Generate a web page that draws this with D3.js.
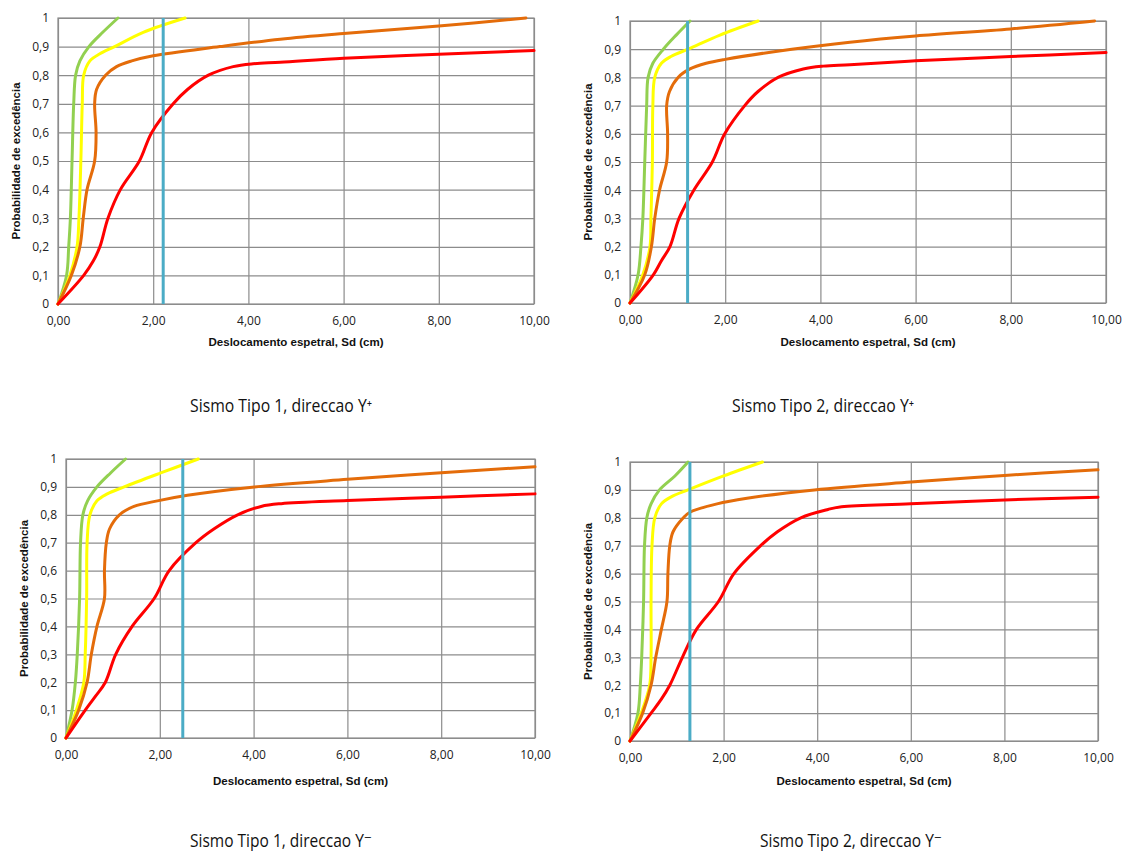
<!DOCTYPE html>
<html>
<head>
<meta charset="utf-8">
<script src="https://cdn.jsdelivr.net/npm/d3@7"></script>
<style>
  html, body { margin: 0; padding: 0; background: #fff; }
  svg { display: block; }
</style>
</head>
<body>
<svg id="chart" width="1126" height="854"></svg>
<script>
// Tick labels (Portuguese decimal comma)
const xTickValues = [0, 2, 4, 6, 8, 10];
const xTickLabels = ["0,00", "2,00", "4,00", "6,00", "8,00", "10,00"];
const yTickValues = [0, 0.1, 0.2, 0.3, 0.4, 0.5, 0.6, 0.7, 0.8, 0.9, 1];
const yTickLabels = ["0", "0,1", "0,2", "0,3", "0,4", "0,5", "0,6", "0,7", "0,8", "0,9", "1"];

const xAxisTitle = "Deslocamento espetral, Sd (cm)";
const yAxisTitle = "Probabilidade de excedência";

// Fragility curves, each point [Sd (cm), probability of exceedance]
// Sismo Tipo 1, direccao Y+
const t1YmaisVerde = [[0,0],[0.18,0.1],[0.225,0.2],[0.26,0.3],[0.295,0.5],[0.33,0.7],[0.37,0.8],[0.46,0.85],[0.65,0.9],[0.94,0.95],[1.26,1]];
const t1YmaisAmarelo = [[0,0],[0.25,0.1],[0.40,0.2],[0.44,0.3],[0.48,0.5],[0.51,0.7],[0.54,0.8],[0.67,0.85],[0.88,0.875],[1.19,0.9],[1.79,0.95],[2.67,1]];
const t1YmaisLaranja = [[0,0],[0.28,0.1],[0.46,0.2],[0.53,0.3],[0.61,0.4],[0.77,0.5],[0.80,0.6],[0.77,0.7],[0.81,0.75],[1.0,0.8],[1.23,0.83],[1.55,0.85],[2.0,0.868],[3.4,0.9],[4.67,0.926],[6,0.946],[8,0.972],[9.83,1]];
const t1YmaisVermelho = [[0,0],[0.54,0.1],[0.74,0.15],[0.88,0.2],[1.05,0.3],[1.31,0.4],[1.71,0.5],[1.97,0.6],[2.42,0.7],[2.72,0.75],[3.16,0.8],[3.68,0.83],[4.1,0.84],[4.67,0.845],[6,0.859],[8,0.873],[10,0.886]];
const t1YmaisLimite = 2.21;

// Sismo Tipo 2, direccao Y+
const t2YmaisVerde = [[0,0],[0.17,0.1],[0.23,0.2],[0.27,0.3],[0.31,0.5],[0.35,0.7],[0.38,0.8],[0.48,0.85],[0.70,0.9],[0.97,0.95],[1.26,1]];
const t2YmaisAmarelo = [[0,0],[0.27,0.1],[0.42,0.2],[0.44,0.3],[0.47,0.5],[0.48,0.7],[0.52,0.8],[0.66,0.85],[0.87,0.875],[1.22,0.9],[1.89,0.95],[2.69,1]];
const t2YmaisLaranja = [[0,0],[0.31,0.1],[0.45,0.2],[0.52,0.3],[0.62,0.4],[0.77,0.5],[0.79,0.6],[0.77,0.7],[0.83,0.75],[1.01,0.8],[1.26,0.83],[1.6,0.85],[2.0,0.864],[3.4,0.9],[4.62,0.925],[6,0.947],[8,0.972],[9.76,1]];
const t2YmaisVermelho = [[0,0],[0.49,0.1],[0.66,0.15],[0.84,0.2],[1.03,0.3],[1.34,0.4],[1.73,0.5],[1.99,0.6],[2.41,0.7],[2.69,0.75],[3.11,0.8],[3.64,0.83],[4.06,0.84],[4.62,0.845],[6,0.859],[8,0.874],[10,0.888]];
const t2YmaisLimite = 1.21;

// Sismo Tipo 1, direccao Y-
const t1YmenosVerde = [[0,0],[0.13,0.1],[0.20,0.2],[0.24,0.3],[0.29,0.5],[0.31,0.7],[0.36,0.8],[0.46,0.85],[0.66,0.9],[0.95,0.95],[1.27,1]];
const t1YmenosAmarelo = [[0,0],[0.22,0.1],[0.38,0.2],[0.41,0.3],[0.44,0.5],[0.45,0.7],[0.51,0.8],[0.66,0.85],[0.88,0.875],[1.24,0.9],[2.02,0.95],[2.82,1]];
const t1YmenosLaranja = [[0,0],[0.27,0.1],[0.45,0.2],[0.54,0.3],[0.66,0.4],[0.82,0.5],[0.82,0.6],[0.86,0.7],[0.93,0.75],[1.14,0.8],[1.45,0.83],[1.95,0.85],[2.59,0.87],[4.02,0.9],[6,0.927],[8,0.951],[10,0.972]];
const t1YmenosVermelho = [[0,0],[0.41,0.1],[0.63,0.15],[0.84,0.2],[1.06,0.3],[1.41,0.4],[1.88,0.5],[2.2,0.6],[2.77,0.7],[3.16,0.75],[3.66,0.8],[4.16,0.83],[4.59,0.84],[6,0.851],[8,0.863],[10,0.875]];
const t1YmenosLimite = 2.49;

// Sismo Tipo 2, direccao Y-
const t2YmenosVerde = [[0,0],[0.17,0.1],[0.22,0.2],[0.25,0.3],[0.29,0.5],[0.31,0.7],[0.36,0.8],[0.45,0.85],[0.63,0.9],[0.96,0.95],[1.24,1]];
const t2YmenosAmarelo = [[0,0],[0.24,0.1],[0.42,0.2],[0.45,0.3],[0.45,0.5],[0.47,0.7],[0.53,0.8],[0.67,0.85],[0.88,0.875],[1.24,0.9],[2.0,0.95],[2.83,1]];
const t2YmenosLaranja = [[0,0],[0.27,0.1],[0.45,0.2],[0.55,0.3],[0.67,0.4],[0.79,0.5],[0.81,0.6],[0.85,0.7],[0.92,0.75],[1.14,0.8],[1.28,0.82],[1.86,0.85],[2.5,0.87],[3.94,0.9],[6,0.928],[8,0.952],[10,0.972]];
const t2YmenosVermelho = [[0,0],[0.45,0.1],[0.67,0.15],[0.85,0.2],[1.12,0.3],[1.42,0.4],[1.89,0.5],[2.22,0.6],[2.79,0.7],[3.15,0.75],[3.65,0.8],[4.23,0.83],[4.52,0.84],[6,0.850],[8,0.864],[10,0.874]];
const t2YmenosLimite = 1.28;

const seriesColors = ["#92d050", "#ffff00", "#e46c0a", "#ff0000"];
const limitColor = "#4bacc6";
const gridColor = "#8c8c8c";

const panels = [
  { caption: "Sismo Tipo 1, direccao Y\u207A", series: [t1YmaisVerde, t1YmaisAmarelo, t1YmaisLaranja, t1YmaisVermelho], limit: t1YmaisLimite,
    box: { left: 58, right: 534, top: 18, bottom: 304 }, xTitleY: 343, capX: 190, capY: 412 },
  { caption: "Sismo Tipo 2, direccao Y\u207A", series: [t2YmaisVerde, t2YmaisAmarelo, t2YmaisLaranja, t2YmaisVermelho], limit: t2YmaisLimite,
    box: { left: 630, right: 1106, top: 21, bottom: 303 }, xTitleY: 343, capX: 732, capY: 412 },
  { caption: "Sismo Tipo 1, direccao Y\u207B", series: [t1YmenosVerde, t1YmenosAmarelo, t1YmenosLaranja, t1YmenosVermelho], limit: t1YmenosLimite,
    box: { left: 66, right: 535, top: 459, bottom: 738 }, xTitleY: 782, capX: 190, capY: 847 },
  { caption: "Sismo Tipo 2, direccao Y\u207B", series: [t2YmenosVerde, t2YmenosAmarelo, t2YmenosLaranja, t2YmenosVermelho], limit: t2YmenosLimite,
    box: { left: 630, right: 1098, top: 462, bottom: 741 }, xTitleY: 782, capX: 760, capY: 847 }
];

const svg = d3.select("#chart");
const tickFont = "'Open Sans', 'Liberation Sans', sans-serif";

panels.forEach(p => {
  const b = p.box;
  const x = d3.scaleLinear().domain([0, 10]).range([b.left, b.right]);
  const y = d3.scaleLinear().domain([0, 1]).range([b.bottom, b.top]);
  const g = svg.append("g");

  // Vertical gridlines + x tick labels
  const xAxis = d3.axisBottom(x)
    .tickValues(xTickValues)
    .tickFormat((d, i) => xTickLabels[i])
    .tickSizeInner(-(b.bottom - b.top))
    .tickSizeOuter(0)
    .tickPadding(12);
  const gx = g.append("g").attr("transform", `translate(0,${b.bottom})`).call(xAxis);
  gx.select(".domain").remove();
  gx.selectAll(".tick line").attr("stroke", gridColor).attr("stroke-width", 1.2);
  gx.selectAll(".tick text").attr("fill", "#222").attr("font-family", tickFont).attr("font-size", 12);

  // Horizontal gridlines + y tick labels
  const yAxis = d3.axisLeft(y)
    .tickValues(yTickValues)
    .tickFormat((d, i) => yTickLabels[i])
    .tickSizeInner(-(b.right - b.left))
    .tickSizeOuter(0)
    .tickPadding(9);
  const gy = g.append("g").attr("transform", `translate(${b.left},0)`).call(yAxis);
  gy.select(".domain").remove();
  gy.selectAll(".tick line").attr("stroke", gridColor).attr("stroke-width", 1.2);
  gy.selectAll(".tick text").attr("fill", "#222").attr("font-family", tickFont).attr("font-size", 12);

  // Plot frame
  g.append("rect")
    .attr("x", b.left).attr("y", b.top)
    .attr("width", b.right - b.left).attr("height", b.bottom - b.top)
    .attr("fill", "none").attr("stroke", gridColor).attr("stroke-width", 1.2);

  // Curves
  const line = d3.line()
    .x(d => x(d[0]))
    .y(d => y(d[1]))
    .curve(d3.curveCatmullRom.alpha(0.5));
  p.series.forEach((s, i) => {
    g.append("path")
      .datum(s)
      .attr("d", line)
      .attr("fill", "none")
      .attr("stroke", seriesColors[i])
      .attr("stroke-width", 3)
      .attr("stroke-linejoin", "round")
      .attr("stroke-linecap", "round");
  });

  // Vertical threshold line
  g.append("line")
    .attr("x1", x(p.limit)).attr("x2", x(p.limit))
    .attr("y1", y(0)).attr("y2", y(1))
    .attr("stroke", limitColor).attr("stroke-width", 3);

  // Axis titles
  g.append("text")
    .attr("x", (b.left + b.right) / 2).attr("y", p.xTitleY)
    .attr("text-anchor", "middle").attr("dominant-baseline", "middle")
    .attr("font-family", "'Liberation Sans', Arial, sans-serif")
    .attr("font-weight", "bold").attr("font-size", 10.5)
    .attr("textLength", 175).attr("lengthAdjust", "spacingAndGlyphs")
    .attr("fill", "#111")
    .text(xAxisTitle);

  const cy = (b.top + b.bottom) / 2;
  g.append("text")
    .attr("transform", `translate(${b.left - 41},${cy}) rotate(-90)`)
    .attr("text-anchor", "middle").attr("dominant-baseline", "middle")
    .attr("font-family", "'Liberation Sans', Arial, sans-serif")
    .attr("font-weight", "bold").attr("font-size", 10.5)
    .attr("textLength", 157).attr("lengthAdjust", "spacingAndGlyphs")
    .attr("fill", "#111")
    .text(yAxisTitle);

  // Caption under each chart
  svg.append("text")
    .attr("x", p.capX).attr("y", p.capY)
    .attr("font-family", "'Open Sans', 'DejaVu Sans', sans-serif")
    .attr("font-size", 19)
    .attr("textLength", 182).attr("lengthAdjust", "spacingAndGlyphs")
    .attr("fill", "#111")
    .text(p.caption);
});
</script>
</body>
</html>
